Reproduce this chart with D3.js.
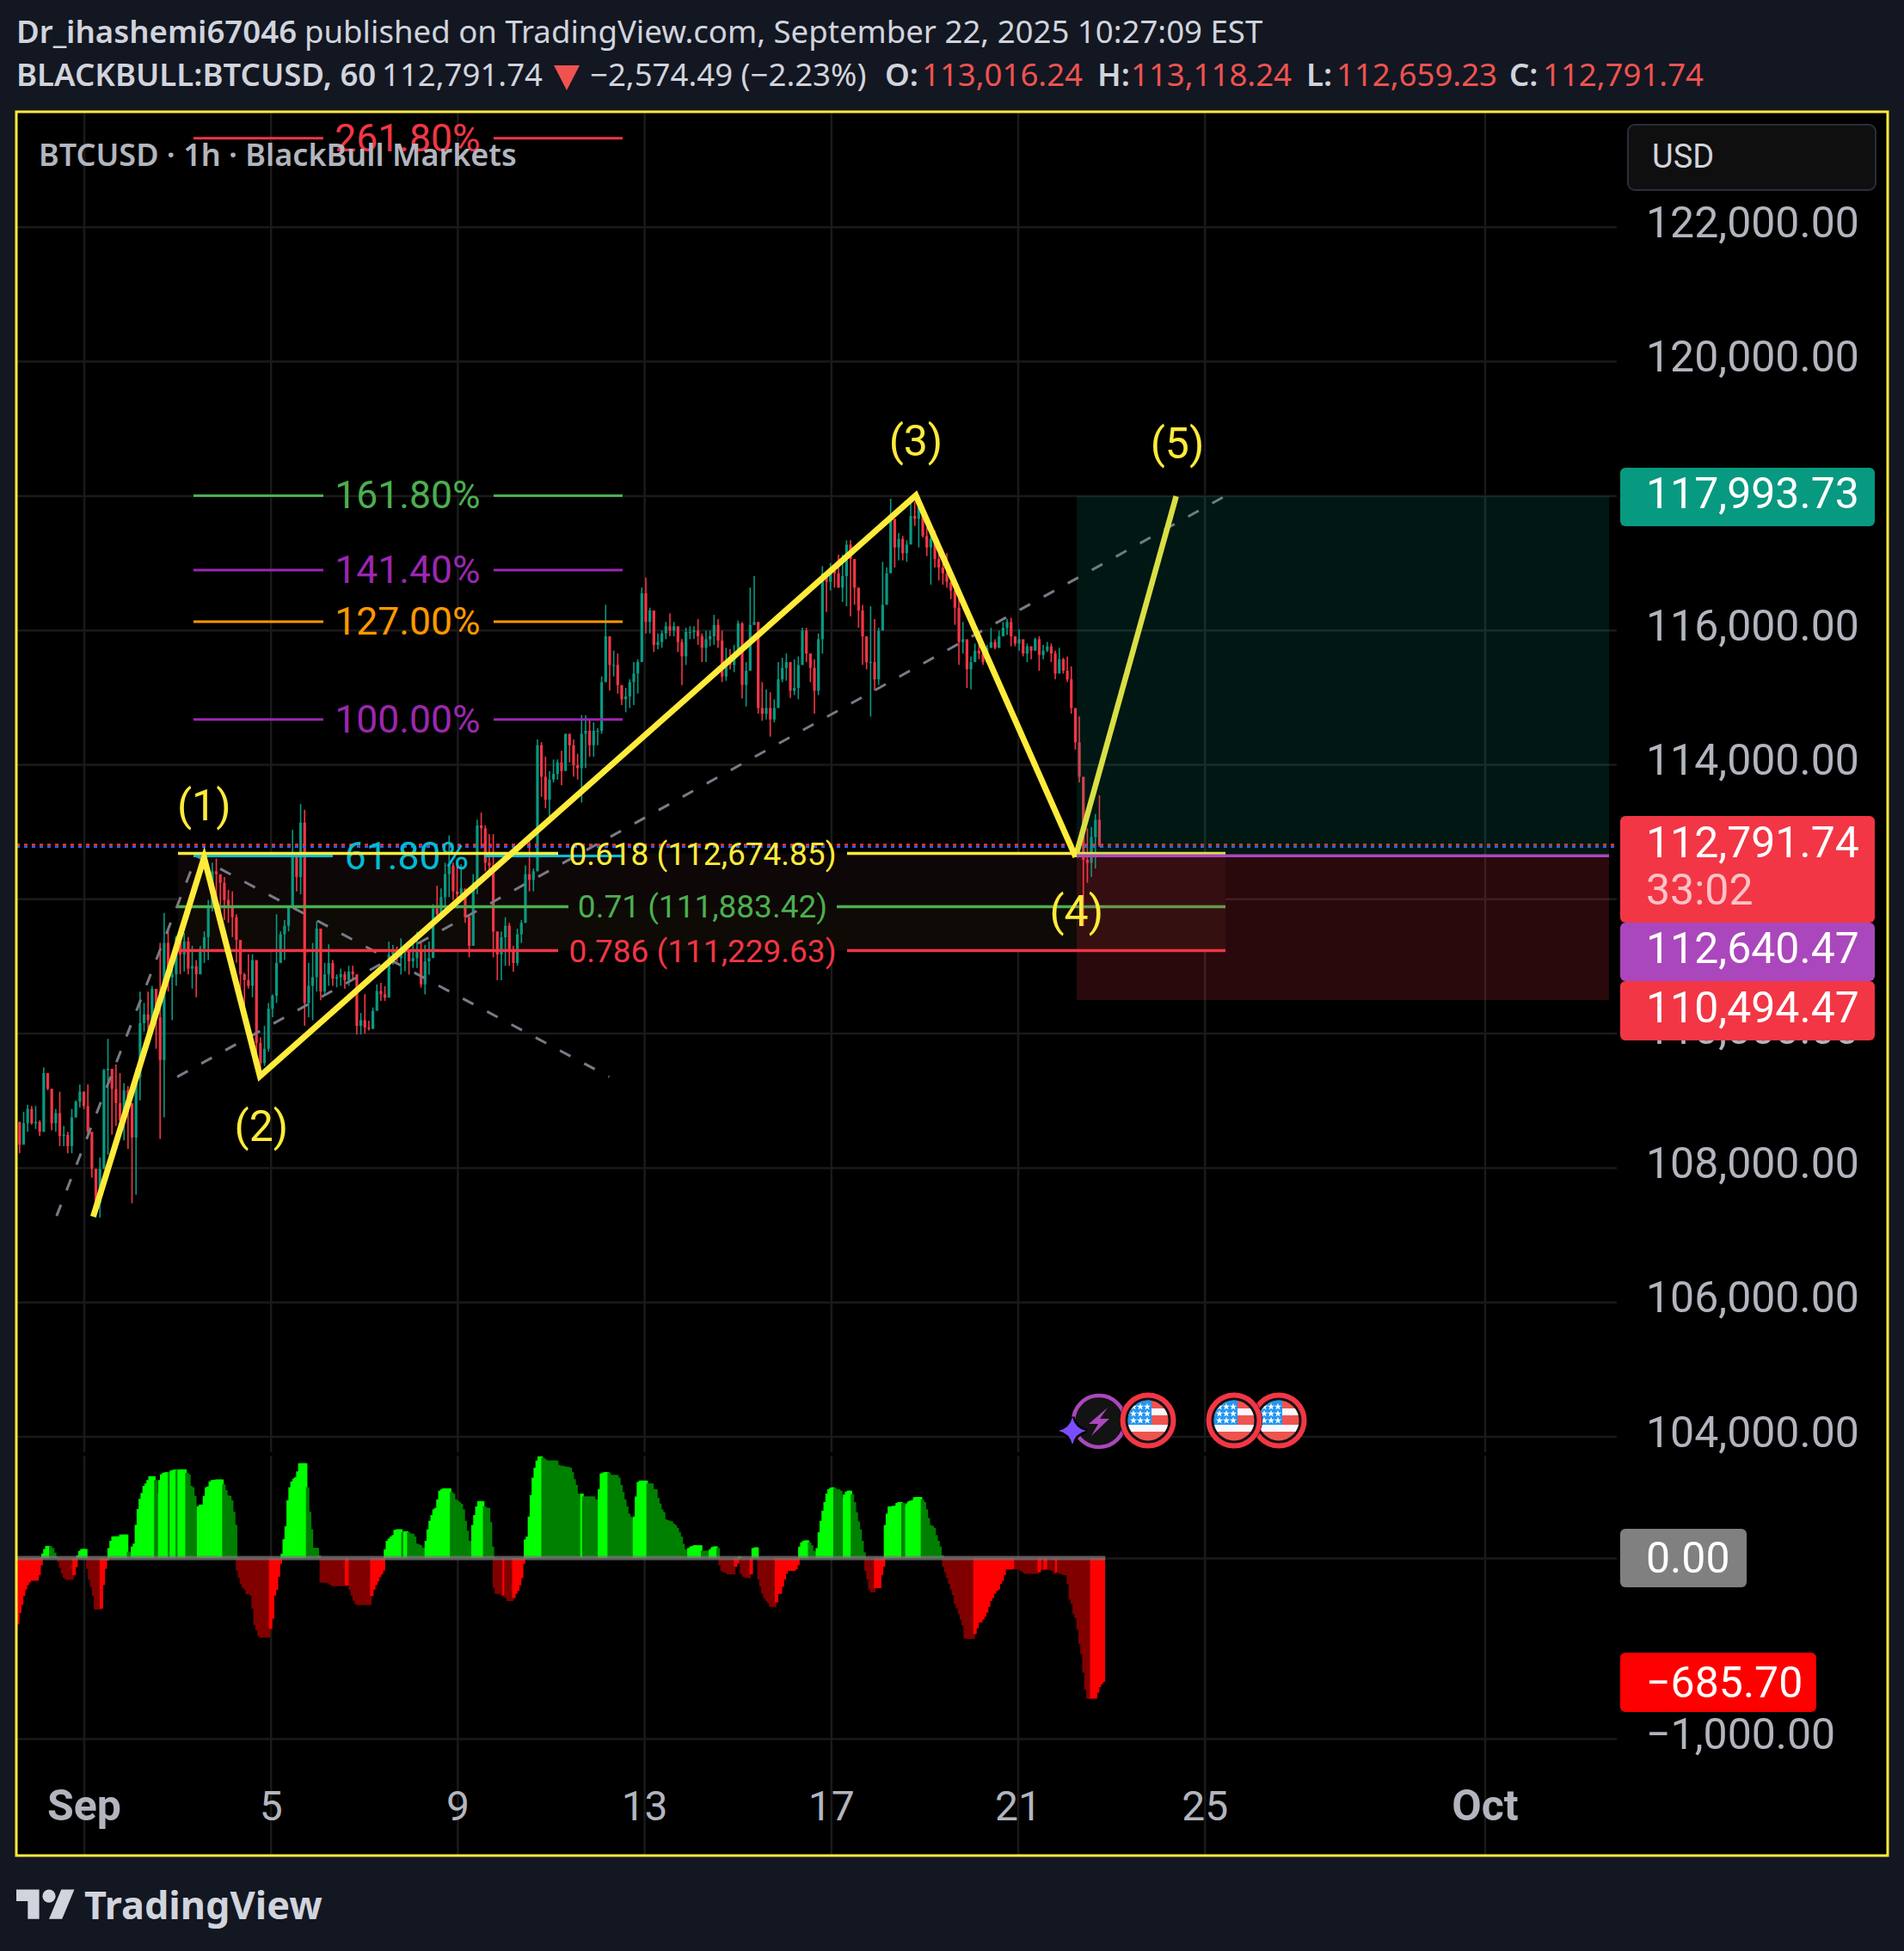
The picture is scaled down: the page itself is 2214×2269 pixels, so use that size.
<!DOCTYPE html>
<html>
<head>
<meta charset="utf-8">
<style>
  html, body { margin: 0; background: #131722; }
  text { font-family: Roboto, sans-serif; }
  .head { font-family: "Noto Sans", sans-serif; font-size: 36.6px; fill: #d1d4dc; }
  .axis text { font-family: Roboto, sans-serif; fill: #b2b5be; }
</style>
<script src="https://cdn.jsdelivr.net/npm/d3@7"></script>
</head>
<body>
<svg id="chart"></svg>
<script>
// 2h candles, starting 33h before Sep 1 (open = previous close)
const highs = [
  108680,108830,108937,108916,108916,108703,109490,109406,109172,108873,
  109130,108618,108533,108873,109000,109236,109130,109236,108510,107980,
  108150,109470,109917,109406,109534,109406,109257,109215,108788,109470,
  110620,110450,110620,110705,110660,111344,111790,111557,111067,111450,
  111580,111493,111430,111300,111088,111300,111515,111983,112537,112600,
  112281,112324,112132,112111,111770,111387,110897,111174,111174,110535,
  109938,110109,110450,110577,111770,111515,111685,111898,113027,112665,
  113410,113325,111046,111344,111664,110960,111046,111323,111088,110876,
  110960,110918,111004,111004,110876,110300,110582,110187,110383,110726,
  110750,110700,111363,111314,111290,111412,111265,111216,111363,111510,
  111363,111314,111363,111919,112196,112153,112537,112943,112537,112495,
  112515,112025,111770,112367,113177,113284,113092,112964,112964,111513,
  111513,111727,111642,111300,111556,111684,112495,112857,112452,114371,
  114329,114115,113902,114073,114073,114200,114456,114414,114371,114158,
  114734,114734,114670,114627,114542,115309,116376,115715,115693,115651,
  115181,115139,115267,115523,115565,116632,116781,116333,116098,115949,
  115992,116120,116248,116120,116034,115864,116034,116056,116056,116162,
  115949,115991,115991,116226,116162,115991,115735,115714,115778,116141,
  116119,115522,116631,116802,116119,115224,115117,115074,114968,115522,
  115586,115650,115522,115565,115607,116034,116034,115629,115565,115948,
  116951,116844,116993,116972,117121,117121,117335,117335,116887,116546,
  116375,115906,116354,116162,116034,117015,116930,117953,117527,117441,
  117399,117335,117910,117910,117996,117718,117527,117505,117484,117185,
  117143,117143,116610,116610,116546,116119,115650,115607,115799,115799,
  115778,115778,116034,115863,115991,116119,116162,116183,115906,116012,
  115820,115799,115757,115884,115906,115778,115821,115799,115692,115735,
  115586,115607,115458,114712,114712,113731,113048,113069,113262,113539
];
const lows = [
  108213,108405,108533,108640,108575,108470,108533,109150,108554,108533,
  108320,108320,108213,108213,108746,108895,108873,108447,107850,107300,
  107254,107980,108192,108490,108618,108575,108405,108277,107468,107595,
  109000,110024,110024,110024,109768,108426,108746,110620,110194,110705,
  110876,110918,110876,110663,110535,110918,111046,111088,111813,111813,
  111813,111685,111642,111430,111046,110535,110300,110663,110535,109512,
  109342,109512,109725,110237,110450,111046,111088,111515,111898,112111,
  112068,110109,110237,110194,110620,110492,110556,110705,110705,110684,
  110705,110663,110705,110790,109980,109980,109994,110040,110064,110334,
  110481,110481,110530,111020,111069,110873,110922,110873,110971,110971,
  110677,110579,110873,111236,111727,111855,111855,112025,111983,111855,
  111983,111642,111130,111642,112068,112750,112409,112409,111130,110789,
  110789,111002,111002,110917,111002,111343,111642,112111,112111,112409,
  113518,113348,113177,113731,113774,113689,113987,114030,113817,113774,
  113433,113945,114115,114115,114286,114456,115224,115096,115309,115054,
  114883,114776,114840,114883,115054,115821,115949,115949,115672,115714,
  115736,115864,115906,115906,115672,115182,115480,115864,115864,115779,
  115523,115522,115757,115778,115735,115224,115245,115415,115373,115650,
  114981,114861,115394,116076,114754,114648,114669,114413,114627,114882,
  115224,115245,114989,115031,114968,115607,115522,115224,114754,115031,
  115650,116268,116588,116631,116631,116418,116354,116205,116375,116034,
  115480,115415,114712,115096,115181,116119,116482,116972,116930,117036,
  117036,117015,117377,117548,117228,117377,117100,116674,116930,116738,
  116674,116631,116460,116077,115480,115650,115138,115117,115522,115565,
  115480,115586,115735,115714,115735,115906,115927,115757,115757,115692,
  115607,115522,115565,115735,115394,115565,115671,115522,115266,115394,
  115351,115224,114754,114221,113731,111594,112238,112323,112451,112771
];
const closes = [
  108340,108660,108873,108660,108680,108533,109406,109172,108660,108810,
  108470,108490,108320,108746,108980,109130,108916,108533,107980,107468,
  107980,109450,109470,109172,108960,108703,109150,108960,108447,109342,
  110150,110280,110194,110660,110237,109600,111344,110833,110876,111430,
  111174,111365,110960,111000,110876,111260,111430,111898,112409,112366,
  112239,111983,111898,111728,111387,110876,110790,110705,111088,109853,
  109555,109768,110364,110556,111046,111472,111600,111898,112622,112324,
  113133,110450,110705,110833,111557,110620,110876,111046,110812,110833,
  110876,110790,110918,110876,110109,110194,110083,110064,110334,110628,
  110579,110530,111167,111216,111118,111216,111216,111069,111118,111216,
  110726,111069,111118,111855,111770,112025,112367,112495,112110,112068,
  112153,111727,111300,112239,113092,113049,112537,112495,111513,111172,
  111428,111599,111215,111044,111471,111642,112367,112281,112409,114286,
  113817,113475,113774,113859,114030,113902,114456,114286,113987,113945,
  114456,114499,114286,114499,114499,115224,115906,115480,115480,115181,
  114968,115011,115224,115352,115523,116546,116120,116290,115779,115821,
  115949,116056,115992,116056,115821,115608,115971,115971,115992,115906,
  115736,115863,115906,116076,115842,115309,115522,115479,115650,116098,
  115181,115394,116076,116119,114840,114754,114840,114669,114840,115266,
  115437,115522,115096,115138,115479,115991,115650,115437,115096,115863,
  116844,116716,116887,116844,116631,116802,117270,117057,116631,116290,
  115906,115522,115522,115266,115991,116375,116844,117655,117228,117356,
  117143,117271,117697,117655,117825,117399,117228,117356,117057,116930,
  116844,116716,116588,116332,115820,115863,115415,115522,115692,115650,
  115522,115735,115821,115735,115906,116034,116119,115906,115799,115863,
  115650,115757,115692,115863,115628,115692,115757,115650,115351,115565,
  115394,115266,114840,114328,113816,112579,112536,112920,113176,112791.74
];

// oscillator, one value per hour, starting 35h before Sep 1
const oscValues = [
  -400,-365,-305,-260,-210,-175,-150,-135,-125,-125,-125,-125,-95,-40,
  25,50,67,67,65,55,30,8,
  -20,-55,-85,-110,-120,-120,-120,-120,-95,-50,
  15,40,50,50,50,
  -60,-120,-160,-210,-285,-285,-285,-280,-150,-60,-15,
  55,95,120,120,120,120,130,130,130,130,35,
  32,64,80,184,272,328,360,400,413,432,453,453,453,432,360,432,464,472,475,475,472,485,488,491,488,491,491,491,491,472,464,400,392,344,285,288,296,296,344,392,397,424,432,432,435,435,435,435,408,376,347,344,320,256,184,
  -70,-110,-145,-165,-175,-200,-200,-208,-280,-370,-400,-430,-440,-440,-440,-440,-440,-392,-336,-208,-176,-104,-32,
  24,104,176,320,392,424,440,448,480,525,525,525,525,392,256,160,56,56,56,16,
  -136,-136,-136,-136,-141,-150,-155,-155,-155,-155,-155,-155,-155,-152,-150,-176,-208,-237,-256,-260,-260,-260,-260,-260,-260,-260,-210,-175,-150,-130,-105,-90,-70,
  48,95,108,119,127,156,159,159,159,143,148,148,143,135,135,119,80,76,71,56,56,95,159,206,238,270,278,325,373,381,386,386,386,386,365,357,325,318,310,
  300,270,206,151,95,95,183,238,286,315,315,315,286,278,278,199,64,
  -165,-198,-198,-198,-210,-206,-222,-238,-238,-238,-222,-198,-182,-151,-111,-32,
  103,119,230,349,445,500,540,563,563,556,548,540,540,540,540,540,540,516,511,511,508,505,505,500,476,437,405,357,354,357,341,341,341,341,341,341,325,325,381,468,473,476,476,473,460,460,460,460,445,405,365,325,286,246,230,222,230,341,421,429,429,429,429,413,413,413,381,381,333,302,270,254,214,210,206,203,190,183,167,143,119,79,48,48,56,64,67,71,71,71,71,40,40,40,40,48,60,64,64,56,
  -40,-71,-79,-79,-90,-90,-90,-90,-48,-30,8,-87,-103,-108,-111,-111,-90,55,59,59,-119,-159,-198,-222,-238,-251,-270,-270,-273,-246,-198,-198,-159,-119,-87,-71,-71,-71,-71,-63,-40,
  63,87,95,98,98,87,71,40,32,55,143,206,262,310,357,381,389,392,389,381,381,373,333,352,368,373,373,352,310,254,203,159,95,32,
  -71,-119,-175,-190,-190,-167,-167,-167,-95,-48,
  183,246,286,286,289,289,305,310,310,305,286,302,313,318,321,337,338,338,338,325,310,270,222,183,178,167,127,95,64,16,
  -48,-79,-111,-143,-175,-206,-254,-278,-310,-341,-373,-445,-448,-448,-448,-448,-421,-389,-357,-357,-341,-325,-302,-270,-238,-222,-198,-183,-175,-143,-127,-95,-63,-63,-63,-63,-60,-63,-63,-63,-71,-79,-87,-87,-87,-87,-87,-87,-87,-79,-63,-67,-63,-63,-67,-67,-71,-87,-79,-83,-87,-90,-95,-95,-143,-230,-254,-310,-333,-397,-476,-532,-635,-730,-778,-781,-778,-778,-778,-746,-714,-698,-686
];

const priceTicks = [122000,120000,118000,116000,114000,112000,110000,108000,106000,104000];
const oscTicks = [0,-1000];
const dayTicks = [0,96,192,288,384,480,576,720];          // hours since Sep 1
const dayLabels = ['Sep','5','9','13','17','21','25','Oct'];

// drawings, [hours since Sep 1, price]
const wavePoints = [[4.8,107269],[61.8,112614],[90.5,109359],[427.6,118005],[509.7,112622]];
const waveTarget = [[509.7,112622],[561.4,117992]];
const waveLabels = ['(1)','(2)','(3)','(4)','(5)'];
const trendA = [[-14,107280],[57.6,112610]];
const trendB = [[57.6,112640],[270,109350]];
const trendC = [[48,109350],[587,118000]];

const extLevels = [123320,118000,116892,116124,114670,112636];
const extNames = ['261.80%','161.80%','141.40%','127.00%','100.00%','61.80%'];
const extColors = ['#f23645','#4caf50','#9c27b0','#ff9800','#9c27b0','#00bcd4'];
const retLevels = [112674.85,111883.42,111229.63];
const retNames = ['0.618 (112,674.85)','0.71 (111,883.42)','0.786 (111,229.63)'];
const retColors = ['#ffeb3b','#4caf50','#f23645'];

const lastPrice = 112791.74, entry = 112640.47, target = 117993.73, stop = 110494.47;

// frame
const W = 2214, H = 2269;
const L = 19, R = 2195, T = 130, B = 2158, plotR = 1880, paneBreak = 1691;

const svg = d3.select('#chart').attr('width', W).attr('height', H).style('display', 'block');

svg.append('rect').attr('x', L).attr('y', T).attr('width', R - L).attr('height', B - T).attr('fill', '#000');
svg.append('clipPath').attr('id', 'plot').append('rect').attr('x', L).attr('y', T).attr('width', plotR - L).attr('height', B - T);

// scales
const x = d3.scaleLinear().domain([0, 720]).range([97.5, 1726.5]);
const y = d3.scaleLinear().domain([114000, 104000]).range([889, 1670.5]);
const yOsc = d3.scaleLinear().domain([0, -1000]).range([1812, 2022]);

// grid
const gridColor = '#1a1a1a';
function cleanGrid(g) {
  g.select('.domain').remove();
  g.selectAll('line').attr('stroke', gridColor).attr('stroke-width', 2.5);
}
svg.append('g').attr('transform', `translate(${plotR},0)`)
  .call(d3.axisLeft(y).tickValues(priceTicks).tickSize(plotR - L).tickFormat(''))
  .call(cleanGrid);
svg.append('g').attr('transform', `translate(${plotR},0)`)
  .call(d3.axisLeft(yOsc).tickValues(oscTicks).tickSize(plotR - L).tickFormat(''))
  .call(cleanGrid);
svg.append('g').attr('transform', `translate(0,${paneBreak - 2})`)
  .call(d3.axisTop(x).tickValues(dayTicks).tickSize(paneBreak - 2 - T).tickFormat(''))
  .call(cleanGrid);
svg.append('g').attr('transform', `translate(0,${paneBreak + 2})`)
  .call(d3.axisBottom(x).tickValues(dayTicks).tickSize(B - paneBreak - 2).tickFormat(''))
  .call(cleanGrid);

// fill between retracement levels
const plot = svg.append('g').attr('clip-path', 'url(#plot)');
const retX0 = 207, retX1 = 1425;
plot.append('rect').attr('x', retX0).attr('width', retX1 - retX0)
  .attr('y', y(retLevels[0])).attr('height', y(retLevels[1]) - y(retLevels[0])).attr('fill', '#0e0707');
plot.append('rect').attr('x', retX0).attr('width', retX1 - retX0)
  .attr('y', y(retLevels[1])).attr('height', y(retLevels[2]) - y(retLevels[1])).attr('fill', '#0e0a05');

// oscillator histogram, bright while rising, dark while falling, flat keeps the shade
let rising = true;
const oscShade = oscValues.map((d, i) => {
  if (i > 0 && d !== oscValues[i - 1]) rising = d > oscValues[i - 1];
  if (d >= 0) return rising ? '#00ff00' : '#008000';
  return rising ? '#ff0000' : '#800000';
});
plot.append('g').selectAll('rect').data(oscValues).join('rect')
  .attr('x', (d, i) => x(i - 35) - 2)
  .attr('width', 4)
  .attr('y', d => Math.min(yOsc(d), yOsc(0)))
  .attr('height', d => Math.abs(yOsc(d) - yOsc(0)))
  .attr('fill', (d, i) => oscShade[i]);
svg.append('line').attr('x1', L).attr('x2', x(oscValues.length - 35)).attr('y1', yOsc(0)).attr('y2', yOsc(0))
  .attr('stroke', '#787878').attr('stroke-opacity', 0.75).attr('stroke-width', 5);

// candles
const candleStart = -33, candleStep = 2.063;
const candles = closes.map((c, i) => ({
  h: candleStart + i * candleStep,
  o: i === 0 ? highs[0] : closes[i - 1],
  c, hi: highs[i], lo: lows[i]
}));
const upColor = '#089981', downColor = '#f23645';
const candle = plot.append('g').selectAll('g').data(candles).join('g');
candle.append('line')
  .attr('x1', d => x(d.h)).attr('x2', d => x(d.h))
  .attr('y1', d => y(d.hi)).attr('y2', d => y(d.lo))
  .attr('stroke', d => d.c >= d.o ? upColor : downColor).attr('stroke-width', 1.6);
candle.append('rect')
  .attr('x', d => x(d.h) - 1.6).attr('width', 3.2)
  .attr('y', d => y(Math.max(d.o, d.c)))
  .attr('height', d => Math.max(1, Math.abs(y(d.o) - y(d.c))))
  .attr('fill', d => d.c >= d.o ? upColor : downColor);

// last price dotted lines
plot.append('line').attr('x1', L).attr('x2', plotR).attr('y1', y(lastPrice) - 1).attr('y2', y(lastPrice) - 1)
  .attr('stroke', downColor).attr('stroke-width', 2.5).attr('stroke-dasharray', '4 5');
plot.append('line').attr('x1', L).attr('x2', plotR).attr('y1', y(lastPrice) + 1.5).attr('y2', y(lastPrice) + 1.5)
  .attr('stroke', '#2962ff').attr('stroke-width', 2).attr('stroke-dasharray', '4 5');

// trend lines
const line = d3.line().x(d => x(d[0])).y(d => y(d[1]));
[trendA, trendB, trendC].forEach(t => {
  plot.append('path').attr('d', line(t)).attr('fill', 'none')
    .attr('stroke', '#787b86').attr('stroke-width', 3).attr('stroke-dasharray', '14 18');
});

// fib extension levels
const extCx = 475;
extLevels.forEach((p, i) => {
  const gap = i === 5 ? 88 : 99;
  [[225, extCx - gap], [extCx + gap, 724]].forEach(s => {
    plot.append('line').attr('x1', s[0]).attr('x2', s[1]).attr('y1', y(p)).attr('y2', y(p))
      .attr('stroke', extColors[i]).attr('stroke-width', 3);
  });
  plot.append('text').attr('x', i === 5 ? 473 : extCx - 1).attr('y', y(p) + 15)
    .attr('text-anchor', 'middle').attr('font-size', 44.5).attr('fill', extColors[i]).text(extNames[i]);
});

// fib retracement levels
const retCx = 817, retGap = [168, 156, 168];
retLevels.forEach((p, i) => {
  [[retX0, retCx - retGap[i]], [retCx + retGap[i], retX1]].forEach(s => {
    plot.append('line').attr('x1', s[0]).attr('x2', s[1]).attr('y1', y(p)).attr('y2', y(p))
      .attr('stroke', retColors[i]).attr('stroke-width', 3.5);
  });
  plot.append('text').attr('x', retCx).attr('y', y(p) + 13)
    .attr('text-anchor', 'middle').attr('font-size', 37).attr('fill', retColors[i]).text(retNames[i]);
});

// elliott wave
plot.append('path').attr('d', line(wavePoints)).attr('fill', 'none')
  .attr('stroke', '#ffeb3b').attr('stroke-width', 7).attr('stroke-linejoin', 'miter');
plot.append('path').attr('d', line(waveTarget)).attr('fill', 'none')
  .attr('stroke', '#ffeb3b').attr('stroke-width', 6.5);

// long position box
const boxX0 = 1252, boxX1 = 1871;
plot.append('rect').attr('x', boxX0).attr('width', boxX1 - boxX0).attr('y', y(target)).attr('height', y(entry) - y(target))
  .attr('fill', '#089981').attr('fill-opacity', 0.15);
plot.append('rect').attr('x', boxX0).attr('width', boxX1 - boxX0).attr('y', y(entry)).attr('height', y(stop) - y(entry))
  .attr('fill', '#f23645').attr('fill-opacity', 0.17);
plot.append('line').attr('x1', boxX0).attr('x2', boxX1).attr('y1', y(entry)).attr('y2', y(entry))
  .attr('stroke', '#ab47bc').attr('stroke-width', 3.5);

// wave labels
const labelPts = [[61.8, 937], [91.2, 1310], [427.6, 513], [510.2, 1060], [562, 516]];
waveLabels.forEach((t, i) => {
  plot.append('text').attr('x', x(labelPts[i][0])).attr('y', labelPts[i][1] + 17)
    .attr('text-anchor', 'middle').attr('font-size', 50).attr('fill', '#ffeb3b').text(t);
});

// event icons
const iconY = 1653;
function flag(cx) {
  const g = svg.append('g').attr('transform', `translate(${cx},${iconY - 1})`);
  const id = 'f' + cx;
  g.append('circle').attr('r', 33).attr('fill', '#000');
  g.append('circle').attr('r', 29.5).attr('fill', '#131313').attr('stroke', '#f23645').attr('stroke-width', 6);
  g.append('clipPath').attr('id', id).append('circle').attr('r', 23.5);
  const c = g.append('g').attr('clip-path', `url(#${id})`);
  c.append('rect').attr('x', -24).attr('y', -24).attr('width', 48).attr('height', 48).attr('fill', '#ef5350');
  c.append('rect').attr('x', -24).attr('y', -14).attr('width', 48).attr('height', 8).attr('fill', '#f8f9fd');
  c.append('rect').attr('x', -24).attr('y', 5).attr('width', 48).attr('height', 8).attr('fill', '#f8f9fd');
  c.append('rect').attr('x', -24).attr('y', -24).attr('width', 28).attr('height', 29).attr('fill', '#2196f3');
  const star = d3.symbol().type(d3.symbolStar).size(22)();
  [-16, -8, 0].forEach(sy => [-17, -9, -1].forEach(sx => {
    c.append('path').attr('d', star).attr('transform', `translate(${sx},${sy})`).attr('fill', '#fff');
  }));
}
const bolt = svg.append('g').attr('transform', `translate(1278,${iconY})`);
bolt.append('circle').attr('r', 33).attr('fill', '#000');
bolt.append('circle').attr('r', 30).attr('fill', '#131313').attr('stroke', '#ab47bc').attr('stroke-width', 4.5);
bolt.append('path').attr('d', 'M10,-16 L-12,3 L-1,3 L-9,17 L12,-3 L1,-3 Z').attr('fill', '#ab47bc');
const spark = svg.append('g').attr('transform', 'translate(1247,1664)');
const sparkPath = 'M0,-16 Q3,-3 16,0 Q3,3 0,16 Q-3,3 -16,0 Q-3,-3 0,-16 Z';
spark.append('path').attr('d', sparkPath).attr('fill', '#7c4dff').attr('stroke', '#000').attr('stroke-width', 5).attr('paint-order', 'stroke');
flag(1335);
flag(1487);
flag(1435);

// right axis
function axisText(g) {
  g.select('.domain').remove();
  g.selectAll('line').remove();
  g.selectAll('text').attr('font-size', 50).attr('text-anchor', 'start').attr('x', 0).attr('dy', 11.5);
  g.attr('class', 'axis');
}
svg.append('g').attr('transform', 'translate(1914,0)')
  .call(d3.axisRight(y).tickValues(priceTicks.filter(p => p !== 118000 && p !== 112000)).tickFormat(d3.format(',.2f')))
  .call(axisText);
svg.append('g').attr('transform', 'translate(1914,0)')
  .call(d3.axisRight(yOsc).tickValues([-1000]).tickFormat(d3.format(',.2f')))
  .call(axisText);

// bottom axis
const xAxis = svg.append('g').attr('transform', 'translate(0,2117)')
  .call(d3.axisBottom(x).tickValues(dayTicks).tickFormat((d, i) => dayLabels[i]).tickSize(0).tickPadding(0));
xAxis.select('.domain').remove();
xAxis.attr('class', 'axis');
xAxis.selectAll('text').attr('dy', 0).attr('y', 0)
  .attr('font-size', (d, i) => (i === 0 || i === 7) ? 50 : 48)
  .attr('font-weight', (d, i) => (i === 0 || i === 7) ? 700 : 400);

// price tags
function tag(x1, y0, y1, color, label, shift) {
  svg.append('rect').attr('x', 1884).attr('y', y0).attr('width', x1 - 1884).attr('height', y1 - y0)
    .attr('rx', 6).attr('fill', color);
  if (label) svg.append('text').attr('x', 1914).attr('y', (y0 + y1) / 2 + 17 + (shift || 0)).attr('font-size', 50).attr('fill', '#fff').text(label);
}
const fmt = d3.format(',.2f');
tag(2180, 544, 612, '#089981', fmt(target), -4);
tag(2180, 1141, 1210, '#f23645', fmt(stop), -4);
tag(2180, 1073, 1141, '#ab47bc', fmt(entry), -4);
tag(2180, 949, 1073, '#f23645');
svg.append('text').attr('x', 1914).attr('y', 997).attr('font-size', 50).attr('fill', '#fff').text(fmt(lastPrice));
svg.append('text').attr('x', 1914).attr('y', 1052).attr('font-size', 50).attr('fill', '#fff').attr('fill-opacity', 0.7).text('33:02');
tag(2031, 1778, 1846, '#808080', '0.00');
tag(2112, 1922, 1991, '#ff0000', fmt(-685.70));

// currency button
svg.append('rect').attr('x', 1893).attr('y', 145).attr('width', 288).attr('height', 76).attr('rx', 8)
  .attr('fill', '#0f0f0f').attr('stroke', '#2a2e39').attr('stroke-width', 2);
svg.append('text').attr('x', 1921).attr('y', 195).attr('font-size', 38).attr('fill', '#d1d4dc').text('USD');

// legend on the chart
svg.append('text').attr('x', 45).attr('y', 193).attr('class', 'head')
  .style('font-size', '36px').style('font-weight', 600).style('fill', '#b2b5be')
  .text('BTCUSD · 1h · BlackBull Markets');

// frame line
svg.append('rect').attr('x', L).attr('y', T).attr('width', R - L).attr('height', B - T)
  .attr('fill', 'none').attr('stroke', '#ffeb3b').attr('stroke-width', 3);

// header
function head(px, py, t, weight, color) {
  const el = svg.append('text').attr('x', px).attr('y', py).attr('class', 'head').text(t);
  if (weight) el.style('font-weight', weight);
  if (color) el.style('fill', color);
  return el;
}
const red = '#ef5350';
head(19, 50, 'Dr_ihashemi67046', 600);
head(354, 50, 'published on TradingView.com, September 22, 2025 10:27:09 EST');
head(19, 100, 'BLACKBULL:BTCUSD, 60', 600);
head(444, 100, '112,791.74');
svg.append('path').attr('d', 'M644,76 L674,76 L659,105 Z').attr('fill', red);
head(686, 100, '−2,574.49 (−2.23%)');
head(1029, 100, 'O:', 600); head(1072, 100, '113,016.24', null, red);
head(1276, 100, 'H:', 600); head(1315, 100, '113,118.24', null, red);
head(1519, 100, 'L:', 600); head(1554, 100, '112,659.23', null, red);
head(1755, 100, 'C:', 600); head(1794, 100, '112,791.74', null, red);

// logo
svg.append('g').attr('transform', 'translate(19,2190) scale(1.9)').attr('fill', '#d1d4dc').call(g => {
  g.append('path').attr('d', 'M14 22H7V11H0V4h14v18zM28 22h-8l7.5-18h8L28 22z');
  g.append('circle').attr('cx', 20).attr('cy', 8).attr('r', 4);
});
svg.append('text').attr('x', 98).attr('y', 2232)
  .attr('class', 'head').style('font-size', '45px').style('font-weight', 700).text('TradingView');
</script>
</body>
</html>
